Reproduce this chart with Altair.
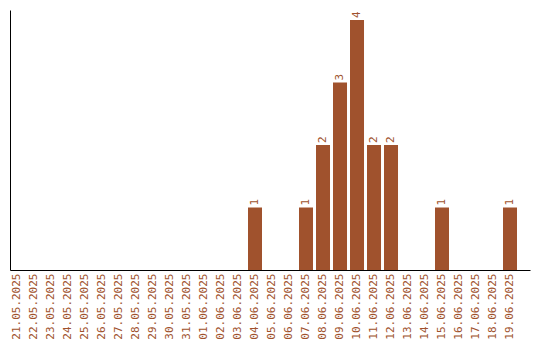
import altair as alt
import pandas as pd

dates = ["21.05.2025", "22.05.2025", "23.05.2025", "24.05.2025", "25.05.2025",
         "26.05.2025", "27.05.2025", "28.05.2025", "29.05.2025", "30.05.2025",
         "31.05.2025", "01.06.2025", "02.06.2025", "03.06.2025", "04.06.2025",
         "05.06.2025", "06.06.2025", "07.06.2025", "08.06.2025", "09.06.2025",
         "10.06.2025", "11.06.2025", "12.06.2025", "13.06.2025", "14.06.2025",
         "15.06.2025", "16.06.2025", "17.06.2025", "18.06.2025", "19.06.2025"]
counts = [0, 0, 0, 0, 0, 0, 0, 0, 0, 0,
          0, 0, 0, 0, 1, 0, 0, 1, 2, 3,
          4, 2, 2, 0, 0, 1, 0, 0, 0, 1]

df = pd.DataFrame({"date": dates, "count": counts})
color = "#A0522D"
font = "DejaVu Sans Mono"

x = alt.X("date:N", sort=None, title=None,
          scale=alt.Scale(paddingInner=0.176, paddingOuter=0.382, align=0),
          axis=alt.Axis(labelAngle=-90, labelColor=color, labelFont=font,
                        labelFontSize=11, labelPadding=3, ticks=False,
                        domainColor="black", domainWidth=1, grid=False,
                        labelOverlap=False))
y = alt.Y("count:Q", title=None,
          scale=alt.Scale(domain=[0, 4.16], nice=False, zero=True),
          axis=alt.Axis(labels=False, ticks=False, grid=False,
                        domainColor="black", domainWidth=1))

bars = alt.Chart(df).mark_bar(color=color).encode(x=x, y=y)
labels = alt.Chart(df).transform_filter("datum.count > 0").mark_text(
    angle=270, align="left", baseline="middle", dx=2,
    color=color, font=font, fontSize=11
).encode(x=x, y=y, text="count:Q")

chart = (bars + labels).properties(
    width=520, height=260,
    autosize=alt.AutoSizeParams(type="none"),
    padding={"left": 10, "top": 10, "right": 10, "bottom": 70},
).configure_view(stroke=None)

chart.save("out.html", embed_options={"renderer": "svg", "actions": False})
